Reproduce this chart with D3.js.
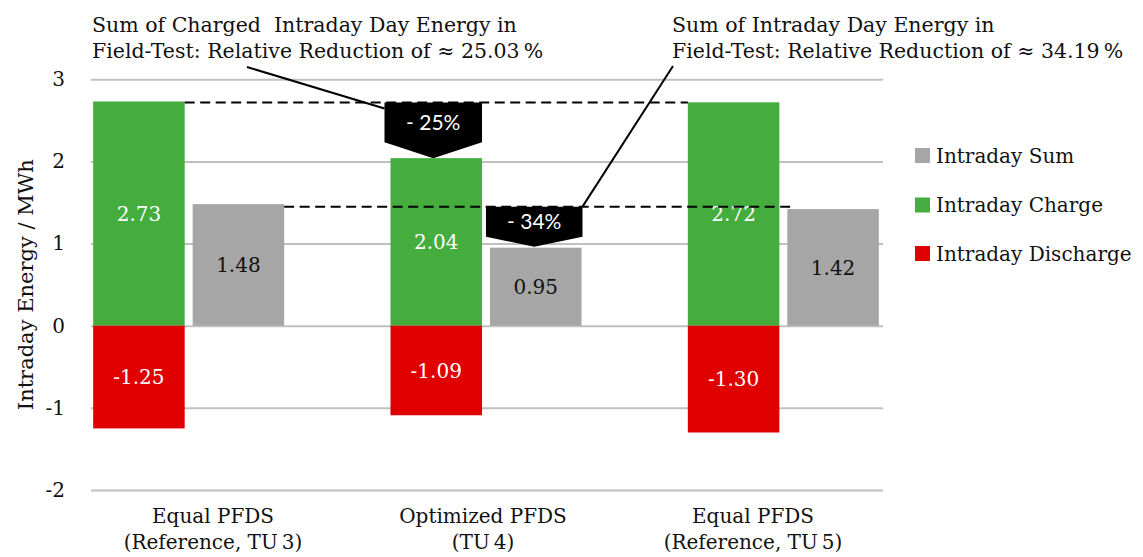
<!DOCTYPE html>
<html><head><meta charset="utf-8">
<script src="https://cdn.jsdelivr.net/npm/d3@7"></script>
<style>body{margin:0;background:#fff} svg{display:block}</style>
</head><body><svg id="c" width="1143" height="557"></svg>
<script>
const categories = ["TU 3","TU 4","TU 5"];
const catLine1 = ["Equal PFDS","Optimized PFDS","Equal PFDS"];
const catLine2 = ["(Reference, TU\u20093)","(TU\u20094)","(Reference, TU\u20095)"];
const chargeValues = [2.73, 2.04, 2.72];
const dischargeValues = [-1.25, -1.09, -1.30];
const sumValues = [1.48, 0.95, 1.42];
const yTickValues = [-2, -1, 0, 1, 2, 3];
const legendLabels = ["Intraday Sum", "Intraday Charge", "Intraday Discharge"];
const reductionLabels = ["- 25%", "- 34%"];
const annotationCharge = ["Sum of Charged  Intraday Day Energy in", "Field-Test: Relative Reduction of \u2248 25.03\u2009%"];
const annotationSum = ["Sum of Intraday Day Energy in", "Field-Test: Relative Reduction of \u2248 34.19\u2009%"];
const yAxisTitle = "Intraday Energy / MWh";

const C = {green: "#44AD3E", red: "#E00000", gray: "#A6A6A6", grid: "#C0C0C0"};
const SERIF = "'DejaVu Serif', serif";
const svg = d3.select("#c");

const y = d3.scaleLinear().domain([-2, 3]).range([490, 79.3]);
const x0 = d3.scaleBand().domain(categories).range([40, 932]);
const half = x0.bandwidth() / 2;
const x1 = d3.scaleBand().domain(["charge", "sum"]).range([half - 95.5, half + 95.5]).paddingInner(0.08);
const xl = d3.scaleBand().domain(categories).range([78, 888]);
const gridL = 91, gridR = 883;

// grid + y axis
const ax = svg.append("g").attr("transform", `translate(${gridL},0)`)
  .call(d3.axisLeft(y).tickValues(yTickValues).tickSize(-(gridR - gridL)).tickPadding(26).tickFormat(d => String(d)));
ax.select(".domain").remove();
ax.selectAll(".tick line").attr("stroke", C.grid).attr("stroke-width", 2);
ax.selectAll(".tick text").attr("font-family", SERIF).attr("font-size", 20).attr("fill", "#111");

svg.append("text").attr("transform", `translate(33,${(y(3) + y(-2)) / 2}) rotate(-90)`)
  .attr("text-anchor", "middle").attr("font-family", SERIF).attr("font-size", 21).attr("fill", "#111").text(yAxisTitle);

// bars
const g = svg.append("g");
categories.forEach((c, i) => {
  const xc = x0(c) + x1("charge"), xs = x0(c) + x1("sum"), bw = x1.bandwidth();
  g.append("rect").attr("x", xc).attr("y", y(chargeValues[i])).attr("width", bw).attr("height", y(0) - y(chargeValues[i])).attr("fill", C.green);
  g.append("rect").attr("x", xc).attr("y", y(0)).attr("width", bw).attr("height", y(dischargeValues[i]) - y(0)).attr("fill", C.red);
  g.append("rect").attr("x", xs).attr("y", y(sumValues[i])).attr("width", bw).attr("height", y(0) - y(sumValues[i])).attr("fill", C.gray);
  const lab = (xx, v, col) => g.append("text").attr("x", xx + bw / 2).attr("y", y(v / 2)).attr("dy", "0.36em")
    .attr("text-anchor", "middle").attr("font-family", SERIF).attr("font-size", 20).attr("fill", col).text(v.toFixed(2));
  lab(xc, chargeValues[i], "#fff");
  lab(xc, dischargeValues[i], "#fff");
  lab(xs, sumValues[i], "#111");
  // category labels
  const t = svg.append("text").attr("text-anchor", "middle").attr("font-family", SERIF).attr("font-size", 20).attr("fill", "#111");
  t.append("tspan").attr("x", xl(c) + xl.bandwidth() / 2).attr("y", 523).text(catLine1[i]);
  t.append("tspan").attr("x", xl(c) + xl.bandwidth() / 2).attr("y", 549).text(catLine2[i]);
});

// dashed reference lines
const bw = x1.bandwidth();
const dash1Y = y(chargeValues[0]) + 1;
svg.append("line").attr("x1", x0(categories[0]) + x1("charge") + bw).attr("x2", x0(categories[2]) + x1("charge"))
  .attr("y1", dash1Y).attr("y2", dash1Y).attr("stroke", "#000").attr("stroke-width", 2).attr("stroke-dasharray", "10,5.5");
const dash2Y = y(sumValues[0]) + 2.5;
svg.append("line").attr("x1", x0(categories[0]) + x1("sum") + bw).attr("x2", x0(categories[2]) + x1("sum") + 6)
  .attr("y1", dash2Y).attr("y2", dash2Y).attr("stroke", "#000").attr("stroke-width", 2).attr("stroke-dasharray", "10,5.5");

// callouts
function callout(xl_, xr, top, tip, drop, label) {
  const xm = (xl_ + xr) / 2, side = tip - drop;
  svg.append("path").attr("d", `M${xl_},${top}H${xr}V${side}L${xm},${tip}L${xl_},${side}Z`).attr("fill", "#000");
  svg.append("text").attr("x", xm).attr("y", (top + side) / 2).attr("dy", "0.36em").attr("text-anchor", "middle")
    .attr("font-family", "Lato, sans-serif").attr("font-size", 21).attr("fill", "#fff").text(label);
}
const c1l = x0(categories[1]) + x1("charge") - 6, c1r = x0(categories[1]) + x1("charge") + bw;
callout(c1l, c1r, dash1Y, y(chargeValues[1]), 16, reductionLabels[0]);
const c2l = x0(categories[1]) + x1("sum") - 4, c2r = x0(categories[1]) + x1("sum") + bw + 1;
callout(c2l, c2r, dash2Y, y(sumValues[1]) - 1, 10, reductionLabels[1]);

// leader lines
svg.append("line").attr("x1", 247).attr("y1", 67).attr("x2", c1l).attr("y2", dash1Y + 6).attr("stroke", "#000").attr("stroke-width", 2);
svg.append("line").attr("x1", c2r).attr("y1", dash2Y).attr("x2", 673).attr("y2", 66).attr("stroke", "#000").attr("stroke-width", 2);

// annotations
function annot(x, lines) {
  const t = svg.append("text").attr("font-family", SERIF).attr("font-size", 20.5).attr("fill", "#111");
  lines.forEach((l, k) => t.append("tspan").attr("x", x).attr("y", 32 + k * 26).attr("xml:space", "preserve").text(l));
}
annot(92, annotationCharge);
annot(672, annotationSum);

// legend
const legColors = [C.gray, C.green, C.red];
const legY = [155.5, 205, 253.5];
legendLabels.forEach((l, k) => {
  svg.append("rect").attr("x", 915).attr("y", legY[k] - 7.5).attr("width", 15).attr("height", 15).attr("fill", legColors[k]);
  svg.append("text").attr("x", 936).attr("y", legY[k]).attr("dy", "0.36em").attr("font-family", SERIF).attr("font-size", 20).attr("fill", "#111").text(l);
});
</script></body></html>
